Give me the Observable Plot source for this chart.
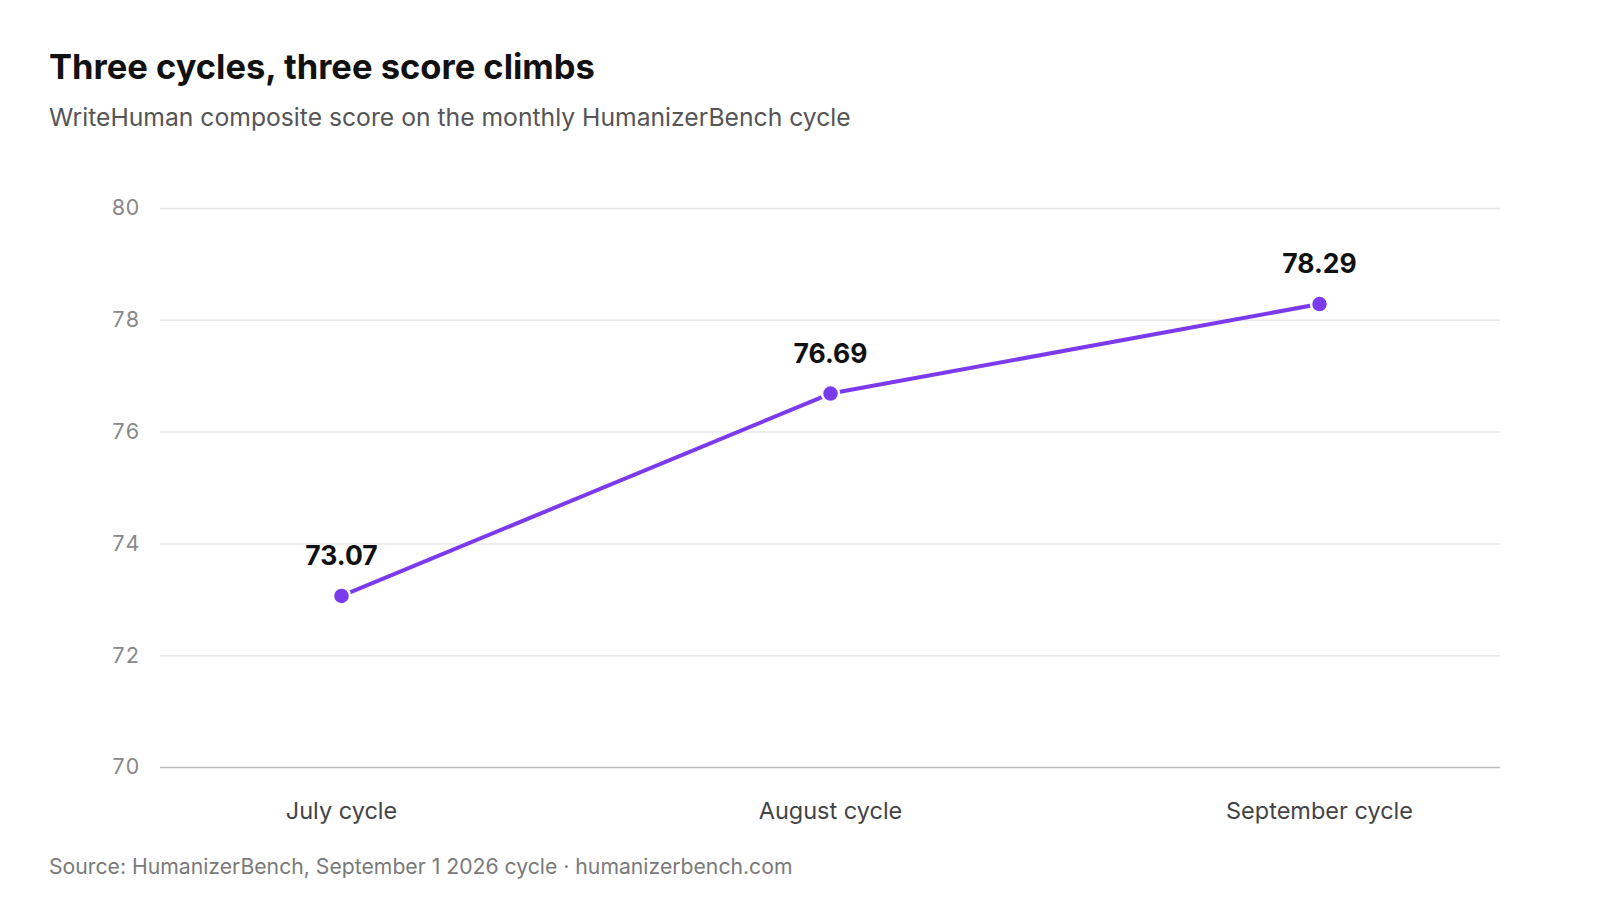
<!DOCTYPE html>
<html>
<head>
<meta charset="utf-8">
<script src="https://cdn.jsdelivr.net/npm/d3@7"></script>
<script src="https://cdn.jsdelivr.net/npm/@observablehq/plot@0.6"></script>
<style>
  html, body { margin: 0; padding: 0; background: #fff; }
  body { width: 1600px; height: 900px; position: relative; font-family: Inter, "Noto Sans", sans-serif; overflow: hidden; }
  #title { position: absolute; left: 49px; top: 45px; font-size: 34.5px; font-weight: 700; color: #111; letter-spacing: 0; line-height: 44px; white-space: nowrap; }
  #subtitle { position: absolute; left: 49px; top: 101px; font-size: 24.7px; color: #555; line-height: 32px; white-space: nowrap; }
  #chart { position: absolute; left: 0; top: 150px; }
  #caption { position: absolute; left: 49px; top: 853px; font-size: 21.2px; color: #7a7a7a; line-height: 26px; white-space: nowrap; }
</style>
</head>
<body>
<div id="title">Three cycles, three score climbs</div>
<div id="subtitle">WriteHuman composite score on the monthly HumanizerBench cycle</div>
<div id="chart"></div>
<div id="caption">Source: HumanizerBench, September 1 2026 cycle · humanizerbench.com</div>
<script>
const cycles = ["July cycle", "August cycle", "September cycle"];
const scores = [73.07, 76.69, 78.29];
const yTicks = [70, 72, 74, 76, 78, 80];

const data = cycles.map((c, i) => ({cycle: c, score: scores[i]}));

const chart = Plot.plot({
  width: 1600,
  height: 692,
  marginLeft: 160,
  marginRight: 100,
  marginTop: 58,
  marginBottom: 75,
  style: { fontFamily: "Inter, 'Noto Sans', sans-serif", background: "transparent" },
  x: { type: "point", domain: cycles, padding: 0.37, label: null },
  y: { domain: [70, 80], label: null },
  marks: [
    Plot.ruleY(yTicks.filter(t => t !== 70), { stroke: "#e8e8e8", strokeWidth: 1.5 }),
    Plot.ruleY([70], { stroke: "#bdbdbd", strokeWidth: 1.5 }),
    Plot.axisY({ ticks: yTicks, tickSize: 0, tickPadding: 21, fontSize: 21.5, color: "#888", tickFormat: d => d, label: null }),
    Plot.axisX({ tickSize: 0, tickPadding: 35, fontSize: 23.5, color: "#444", label: null }),
    Plot.line(data, { x: "cycle", y: "score", stroke: "#7c3aed", strokeWidth: 4 }),
    Plot.dot(data, { x: "cycle", y: "score", r: 8.5, fill: "#7c3aed", stroke: "#fff", strokeWidth: 2.5 }),
    Plot.text(data, { x: "cycle", y: "score", text: d => d.score.toFixed(2), dy: -31, lineAnchor: "bottom", fontSize: 26.5, fontWeight: 700, fill: "#111" })
  ]
});
document.getElementById("chart").appendChild(chart);
</script>
</body>
</html>
